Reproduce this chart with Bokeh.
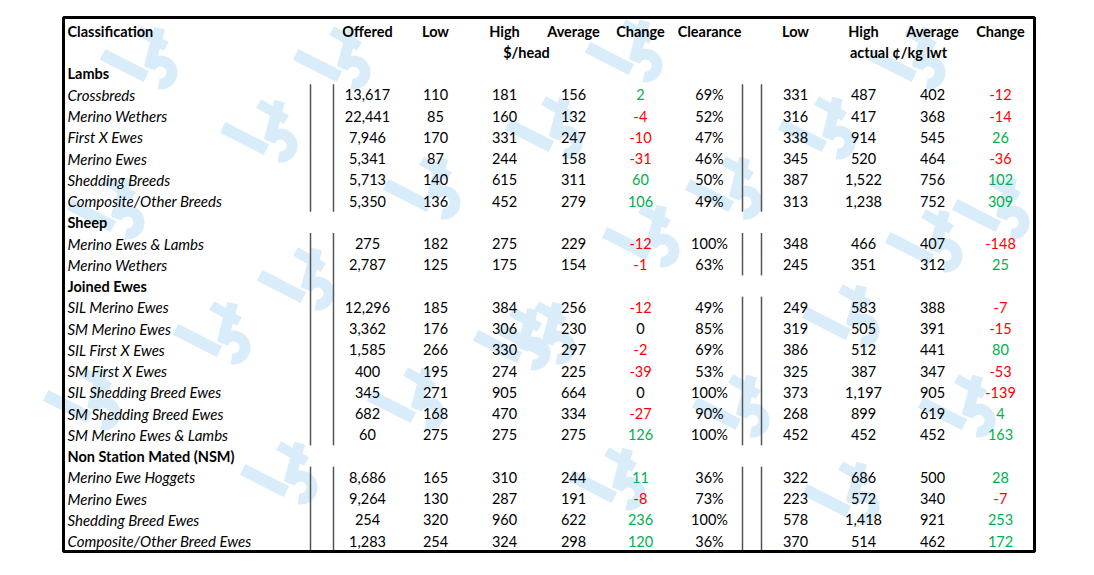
import math
from bokeh.plotting import figure
from bokeh.models import Range1d, ColumnDataSource
from bokeh.core.properties import value
from bokeh.embed import file_html
from bokeh.resources import INLINE

# ---------------- data ----------------
section_names = ["Lambs", "Sheep", "Joined Ewes", "Non Station Mated (NSM)"]
section_sizes = [6, 2, 7, 4]
classes = ["Crossbreds", "Merino Wethers", "First X Ewes", "Merino Ewes", "Shedding Breeds",
           "Composite/Other Breeds",
           "Merino Ewes & Lambs", "Merino Wethers",
           "SIL Merino Ewes", "SM Merino Ewes", "SIL First X Ewes", "SM First X Ewes",
           "SIL Shedding Breed Ewes", "SM Shedding Breed Ewes", "SM Merino Ewes & Lambs",
           "Merino Ewe Hoggets", "Merino Ewes", "Shedding Breed Ewes", "Composite/Other Breed Ewes"]
offered = [13617, 22441, 7946, 5341, 5713, 5350, 275, 2787, 12296, 3362, 1585, 400, 345, 682, 60,
           8686, 9264, 254, 1283]
low_head = [110, 85, 170, 87, 140, 136, 182, 125, 185, 176, 266, 195, 271, 168, 275, 165, 130, 320, 254]
high_head = [181, 160, 331, 244, 615, 452, 275, 175, 384, 306, 330, 274, 905, 470, 275, 310, 287, 960, 324]
avg_head = [156, 132, 247, 158, 311, 279, 229, 154, 256, 230, 297, 225, 664, 334, 275, 244, 191, 622, 298]
chg_head = [2, -4, -10, -31, 60, 106, -12, -1, -12, 0, -2, -39, 0, -27, 126, 11, -8, 236, 120]
clearance = [69, 52, 47, 46, 50, 49, 100, 63, 49, 85, 69, 53, 100, 90, 100, 36, 73, 100, 36]
low_kg = [331, 316, 338, 345, 387, 313, 348, 245, 249, 319, 386, 325, 373, 268, 452, 322, 223, 578, 370]
high_kg = [487, 417, 914, 520, 1522, 1238, 466, 351, 583, 505, 512, 387, 1197, 899, 452, 686, 572, 1418, 514]
avg_kg = [402, 368, 545, 464, 756, 752, 407, 312, 388, 391, 441, 347, 905, 619, 452, 500, 340, 921, 462]
chg_kg = [-12, -14, 26, -36, 102, 309, -148, 25, -7, -15, 80, -53, -139, 4, 163, 28, -7, 253, 172]

headers = ["Offered", "Low", "High", "Average", "Change", "Clearance", "Low", "High", "Average", "Change"]
unit_labels = ["$/head", "actual \u00a2/kg lwt"]

# watermark logo positions (approx, screen px)
logo_x = [160, 353, 645, 928, 280, 565, 838, 443, 745, 127, 1012, 662, 945, 317, 233, 558, 862,
          533, 103, 427, 752, 978, 300, 628, 862]
logo_y = [72, 72, 65, 72, 145, 142, 142, 202, 202, 222, 222, 250, 255, 293, 347, 347, 330,
          353, 413, 413, 420, 420, 487, 493, 507]

# ---------------- layout ----------------
W, H = 1078, 559
FONT = "Lato"
ROW0, ROWH = 30.5, 21.25
col_x = [367, 435, 504, 573, 640, 709, 795, 863, 932, 1000]
unit_x = [526, 898]
LABEL_X = 67
GREEN, RED = "#00B050", "#FF0000"

p = figure(width=W, height=H, x_range=Range1d(0, W), y_range=Range1d(H, 0),
           output_backend="svg", toolbar_location=None, x_axis_type=None, y_axis_type=None,
           min_border=0)
p.outline_line_color = None
p.grid.visible = False
p.background_fill_color = "white"

# watermark logos (y axis is flipped, so angles are negated to turn counter-clockwise on screen)
LB = "#d9ecf9"
src_logo = ColumnDataSource(dict(x=logo_x, y=logo_y))
p.annular_wedge(x="x", y="y", inner_radius=6, outer_radius=17, start_angle=-math.radians(100),
                end_angle=-math.radians(200), direction="anticlock", source=src_logo,
                fill_color=LB, line_color=None)
bar = ColumnDataSource(dict(x=[x - 36 for x in logo_x], y=[y - 7 for y in logo_y]))
p.rect(x="x", y="y", width=49, height=12, angle=-math.radians(27), source=bar,
       fill_color=LB, line_color=None)
stem = ColumnDataSource(dict(x=[x - 6 for x in logo_x], y=[y - 25 for y in logo_y]))
p.rect(x="x", y="y", width=11, height=40, angle=-math.radians(15), source=stem,
       fill_color=LB, line_color=None)
cross = ColumnDataSource(dict(x=[x - 8 for x in logo_x], y=[y - 34 for y in logo_y]))
p.rect(x="x", y="y", width=32, height=10, angle=-math.radians(30), source=cross,
       fill_color=LB, line_color=None)

# rows
r = 2
data_row_y = []
sec_row_y = []
sec_spans = []
for name, n in zip(section_names, section_sizes):
    sec_row_y.append(ROW0 + r * ROWH)
    r += 1
    start = r
    for k in range(n):
        data_row_y.append(ROW0 + r * ROWH)
        r += 1
    sec_spans.append((ROW0 + start * ROWH - ROWH / 2, ROW0 + (r - 1) * ROWH + ROWH / 2))

# vertical separator lines
left_spans = [sec_spans[0], (sec_spans[1][0], sec_spans[2][1]), sec_spans[3]]
right_spans = sec_spans
for xx in (310, 333):
    p.segment(x0=[xx] * len(left_spans), x1=[xx] * len(left_spans),
              y0=[a for a, b in left_spans], y1=[b for a, b in left_spans],
              line_color="#555555", line_width=1.5)
for xx in (742, 761):
    p.segment(x0=[xx] * len(right_spans), x1=[xx] * len(right_spans),
              y0=[a for a, b in right_spans], y1=[b for a, b in right_spans],
              line_color="#555555", line_width=1.5)

def txt(xs, ys, texts, colors="black", align="center", style="normal", size="14.5px"):
    if isinstance(colors, str):
        colors = [colors] * len(texts)
    src = ColumnDataSource(dict(x=xs, y=ys, t=texts, c=colors))
    p.text(x="x", y="y", text="t", text_color="c", source=src, text_align=align,
           text_baseline="middle", text_font=value(FONT), text_font_size=size,
           text_font_style=style)

# headers
txt([LABEL_X], [ROW0], ["Classification"], align="left", style="bold", size="14.5px")
txt(col_x, [ROW0] * len(col_x), headers, style="bold", size="14.5px")
txt(unit_x, [ROW0 + ROWH] * 2, unit_labels, style="bold", size="14.5px")
txt([LABEL_X] * 4, sec_row_y, section_names, align="left", style="bold", size="14.5px")
txt([LABEL_X] * len(classes), data_row_y, classes, align="left", style="italic", size="15px")

def chg_col(v):
    return GREEN if v > 0 else (RED if v < 0 else "black")

cols = [
    [f"{v:,}" for v in offered],
    [f"{v:,}" for v in low_head],
    [f"{v:,}" for v in high_head],
    [f"{v:,}" for v in avg_head],
    [f"{v}" for v in chg_head],
    [f"{v}%" for v in clearance],
    [f"{v:,}" for v in low_kg],
    [f"{v:,}" for v in high_kg],
    [f"{v:,}" for v in avg_kg],
    [f"{v}" for v in chg_kg],
]
for ci, (cx, vals) in enumerate(zip(col_x, cols)):
    if ci == 4:
        colors = [chg_col(v) for v in chg_head]
    elif ci == 9:
        colors = [chg_col(v) for v in chg_kg]
    else:
        colors = "black"
    txt([cx] * len(vals), data_row_y, vals, colors=colors)

# outer border
p.rect(x=[(63 + 1034) / 2], y=[(17 + 551) / 2], width=1034 - 63, height=551 - 17,
       fill_color=None, line_color="black", line_width=3)

open("out.html", "w").write(file_html(p, INLINE))
